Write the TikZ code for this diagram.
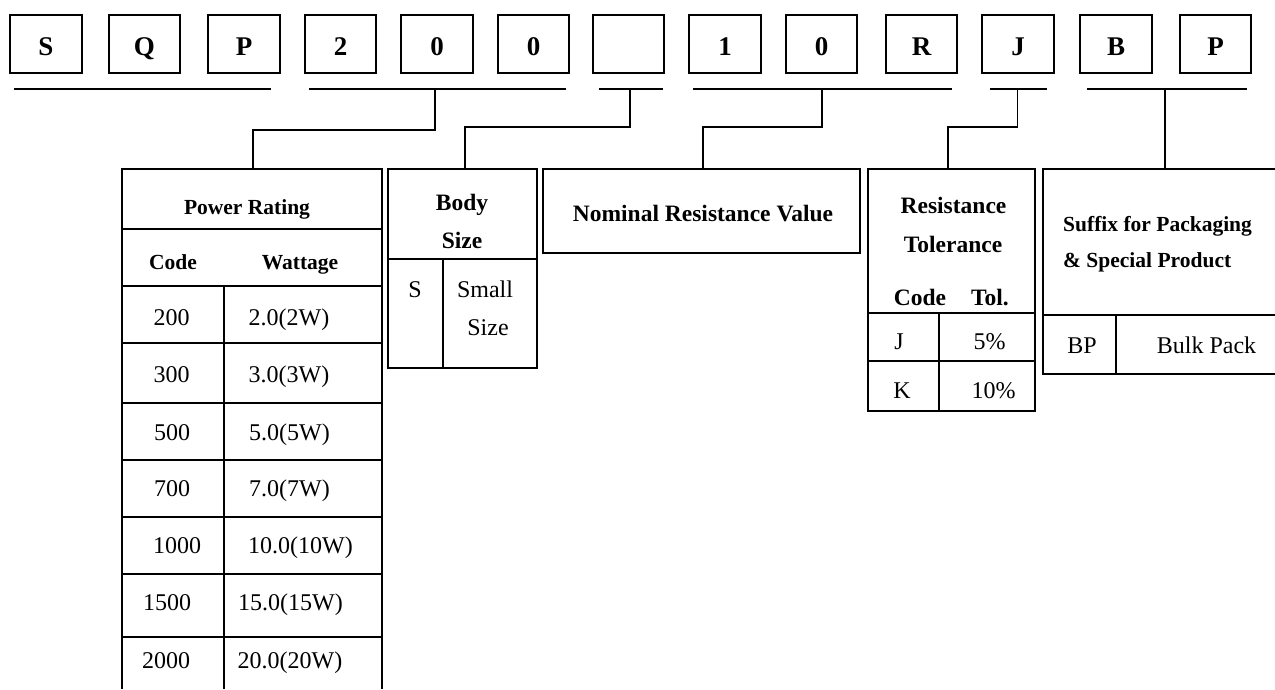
\documentclass[tikz,border=0pt]{standalone}
\usepackage{fontspec}
\setmainfont{Liberation Serif}
\tikzset{codebox/.style={draw,line width=2pt,minimum width=71.5pt,minimum height=58pt,
   inner sep=0pt,text height=24pt,text depth=0pt,font=\bfseries\fontsize{27}{30}\selectfont},
 underline/.style={line width=1.8pt},
 wire/.style={line width=1.8pt},
 frame/.style={line width=2.2pt},
 rule/.style={line width=1.6pt},
 head/.style={anchor=base,inner sep=0pt,font=\bfseries\fontsize{23.5}{26}\selectfont},
 subhead/.style={anchor=base,inner sep=0pt,font=\bfseries\fontsize{21.5}{24}\selectfont},
 entry/.style={anchor=base,inner sep=0pt,font=\fontsize{24}{28}\selectfont},
 }

\begin{document}
\begin{tikzpicture}[x=1pt,y=-1pt]
        \useasboundingbox (0,0) rectangle (1275,689);
        % part number boxes
        \node[codebox] (b1) at (45.8,43.5) {S};
        \node[codebox] (b2) at (144.3,43.5) {Q};
        \node[codebox] (b3) at (244,43.5) {P};
        \node[codebox] (b4) at (340.5,43.5) {2};
        \node[codebox] (b5) at (437,43.5) {0};
        \node[codebox] (b6) at (533.5,43.5) {0};
        \node[codebox] (b7) at (628.5,43.5) {};
        \node[codebox] (b8) at (725,43.5) {1};
        \node[codebox] (b9) at (821.5,43.5) {0};
        \node[codebox] (b10) at (921.5,43.5) {R};
        \node[codebox] (b11) at (1018,43.5) {J};
        \node[codebox] (b12) at (1116,43.5) {B};
        \node[codebox] (b13) at (1215.5,43.5) {P};
        \draw [underline] (14,89) -- (271,89);
        \draw [underline] (309,89) -- (566,89);
        \draw [underline] (599,89) -- (663,89);
        \draw [underline] (693,89) -- (952,89);
        \draw [underline] (990,89) -- (1047,89);
        \draw [underline] (1087,89) -- (1247,89);
        % connectors
        \coordinate (tapPower) at (435,89);
        \coordinate (tapBody) at (630,89);
        \coordinate (tapValue) at (822,89);
        \coordinate (tapTol) at (1017.5,89);
        \coordinate (tapSuffix) at (1165,89);
        \coordinate (kneePower) at (253,130);
        \coordinate (kneeBody) at (465,127);
        \coordinate (kneeValue) at (703,127);
        \coordinate (kneeTol) at (948,127);
        \coordinate (topPower) at (253,169);
        \coordinate (topBody) at (465,169);
        \coordinate (topValue) at (703,169);
        \coordinate (topTol) at (948,169);
        \coordinate (topSuffix) at (1165,169);
        \draw [wire] (tapPower) |- (kneePower) -- (topPower);
        \draw [wire] (tapBody) |- (kneeBody) -- (topBody);
        \draw [wire] (tapValue) |- (kneeValue) -- (topValue);
        \draw [wire] (tapTol) |- (kneeTol) -- (topTol);
        \draw [wire] (tapSuffix) -- (topSuffix);
        % power rating
        \draw [frame] (122,689) -- (122,169) -- (382,169) -- (382,689);
        \draw [rule] (122,229) -- (382,229);
        \draw [rule] (122,286) -- (382,286);
        \draw [rule] (122,343) -- (382,343);
        \draw [rule] (122,403) -- (382,403);
        \draw [rule] (122,460) -- (382,460);
        \draw [rule] (122,517) -- (382,517);
        \draw [rule] (122,574) -- (382,574);
        \draw [rule] (122,637) -- (382,637);
        \draw [frame] (224,286) -- (224,689);
        \node[subhead] (powerHead) at (247,214) {Power Rating};
        \node[subhead] (powerCode) at (173,269) {Code};
        \node[subhead] (powerWatt) at (300,269) {Wattage};
        \node[entry] (p200) at (171.5,325) {200};
        \node[entry] (w200) at (289,325) {2.0(2W)};
        \node[entry] (p300) at (171.5,382) {300};
        \node[entry] (w300) at (289,382) {3.0(3W)};
        \node[entry] (p500) at (172,440) {500};
        \node[entry] (w500) at (289.5,440) {5.0(5W)};
        \node[entry] (p700) at (172,496) {700};
        \node[entry] (w700) at (289.5,496) {7.0(7W)};
        \node[entry] (p1000) at (177,553) {1000};
        \node[entry] (w1000) at (300.5,553) {10.0(10W)};
        \node[entry] (p1500) at (167,610) {1500};
        \node[entry] (w1500) at (290.5,610) {15.0(15W)};
        \node[entry] (p2000) at (166,668) {2000};
        \node[entry] (w2000) at (290,668) {20.0(20W)};
        % body size
        \draw [frame] (388,169) rectangle (537,368);
        \draw [rule] (388,259) -- (537,259);
        \draw [frame] (443,259) -- (443,368);
        \node[head] (bodyHead) at (462,210) {Body};
        \node[head] (bodyHead2) at (462,248) {Size};
        \node[entry] (bodyS) at (415,297) {S};
        \node[entry] (bodySmall) at (485,297) {Small};
        \node[entry] (bodySize) at (488,335) {Size};
        % nominal resistance
        \draw [frame] (543,169) rectangle (860,253);
        \node[head] (valueHead) at (703,221.5) {Nominal Resistance Value};
        % tolerance
        \draw [frame] (868,169) rectangle (1035,411);
        \draw [rule] (868,313) -- (1035,313);
        \draw [rule] (868,361) -- (1035,361);
        \draw [frame] (939,313) -- (939,411);
        \node[head] (tolHead) at (953.5,213) {Resistance};
        \node[head] (tolHead2) at (953,252) {Tolerance};
        \node[head] (tolCode) at (920,305) {Code};
        \node[head] (tolTol) at (990,305) {Tol.};
        \node[entry] (tolJ) at (899,349) {J};
        \node[entry] (tolJv) at (989.5,349) {5\%};
        \node[entry] (tolK) at (902,398) {K};
        \node[entry] (tolKv) at (993.5,398) {10\%};
        % packaging suffix
        \draw [frame] (1275,169) -- (1043,169) -- (1043,374) -- (1275,374);
        \draw [rule] (1043,315) -- (1275,315);
        \draw [frame] (1116,315) -- (1116,374);
        \node[subhead,anchor=base west] (sufHead) at (1063,231.5) {Suffix for Packaging};
        \node[subhead,anchor=base west] (sufHead2) at (1063,267.5) {\& Special Product};
        \node[entry] (sufBP) at (1082,353) {BP};
        \node[entry] (sufBulk) at (1206.5,353) {Bulk Pack};
    \end{tikzpicture}
\end{document}
